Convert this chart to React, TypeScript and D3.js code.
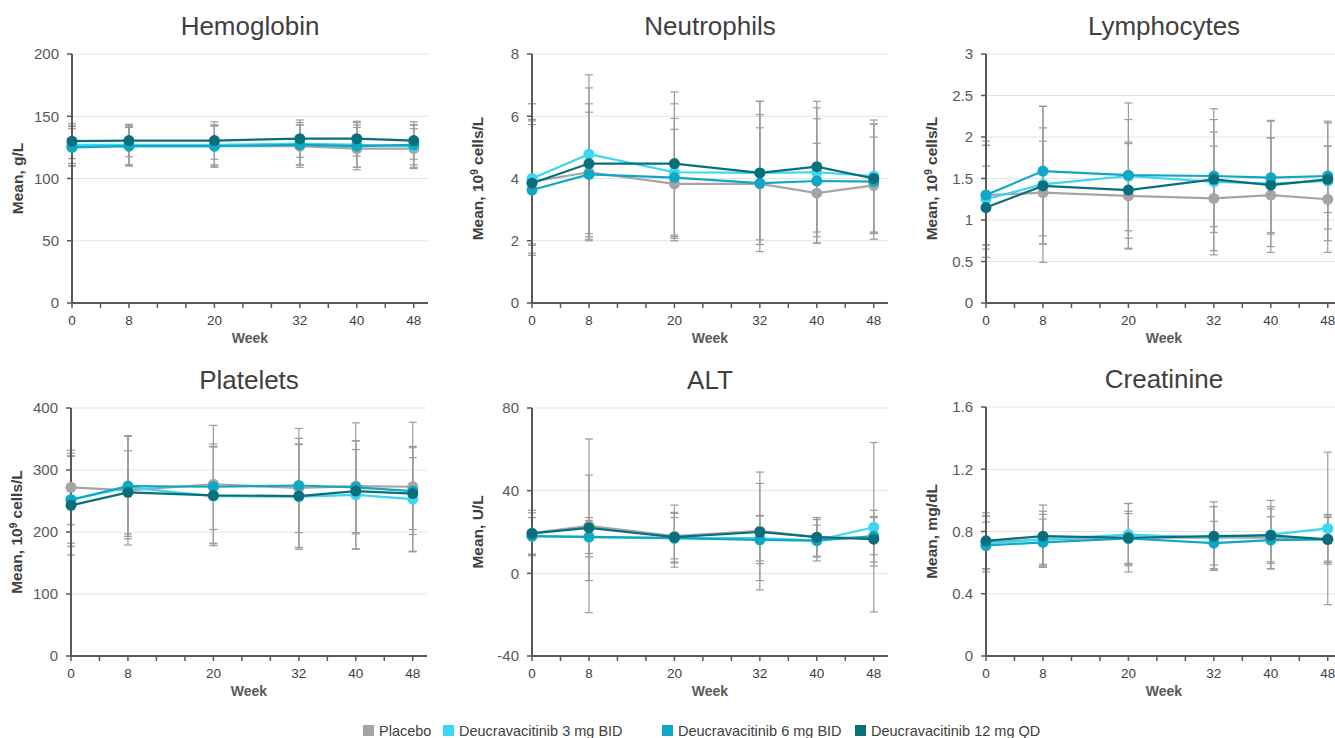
import React from "react";
import * as d3 from "d3";

const weeks = [0, 8, 20, 32, 40, 48];
const weekTicks = [0, 4, 8, 12, 16, 20, 24, 28, 32, 36, 40, 44, 48];
const weekLabels = [0, 8, 20, 32, 40, 48];

const seriesNames = [
  "Placebo",
  "Deucravacitinib 3 mg BID",
  "Deucravacitinib 6 mg BID",
  "Deucravacitinib 12 mg QD",
];
const seriesColors = ["#a7a4a6", "#3ad7f2", "#0fa7c4", "#0a6e7b"];

// Means per series (Placebo, 3 mg, 6 mg, 12 mg) and SD per series
const hgbMeans = [
  [126, 126, 126, 126, 124, 124],
  [127, 127, 127, 128, 127, 126],
  [125, 126, 126, 127, 126, 127],
  [130, 130.5, 130.5, 132, 132, 130.5],
];
const hgbSD = [
  [16, 16, 17, 17, 17, 16],
  [15, 16, 16, 17, 18, 17],
  [15, 15, 16, 16, 17, 16],
  [14, 13, 15, 15, 14, 15],
];
const hgbTicks = [0, 50, 100, 150, 200];

const neuMeans = [
  [3.9, 4.2, 3.83, 3.83, 3.53, 3.78],
  [4.0, 4.78, 4.2, 4.18, 4.2, 4.08],
  [3.63, 4.13, 4.03, 3.85, 3.92, 3.9],
  [3.85, 4.48, 4.48, 4.18, 4.38, 4.0],
];
const neuSD = [
  [2.0, 2.2, 1.75, 1.8, 1.6, 1.55],
  [2.4, 2.55, 2.2, 2.3, 2.07, 1.8],
  [2.1, 2.0, 1.9, 2.2, 2.0, 1.85],
  [2.0, 2.43, 2.3, 2.3, 2.1, 1.75],
];
const neuTicks = [0, 2, 4, 6, 8];

const lymMeans = [
  [1.3, 1.33, 1.29, 1.26, 1.3, 1.25],
  [1.25, 1.43, 1.53, 1.46, 1.44, 1.47],
  [1.3, 1.59, 1.54, 1.53, 1.51, 1.53],
  [1.15, 1.41, 1.36, 1.49, 1.42, 1.49],
];
const lymSD = [
  [0.6, 0.62, 0.63, 0.63, 0.69, 0.64],
  [0.7, 0.94, 0.88, 0.88, 0.76, 0.72],
  [0.6, 0.78, 0.67, 0.68, 0.68, 0.64],
  [0.5, 0.7, 0.58, 0.57, 0.57, 0.4],
];
const lymTicks = [0, 0.5, 1, 1.5, 2, 2.5, 3];

const pltMeans = [
  [272, 267, 277, 271, 274, 273],
  [252, 272, 258, 257, 260, 253],
  [252, 274, 273, 275, 272, 266],
  [243, 264, 259, 258, 266, 262],
];
const pltSD = [
  [60, 88, 95, 96, 102, 104],
  [70, 83, 80, 85, 87, 85],
  [75, 81, 69, 76, 75, 70],
  [80, 67, 78, 83, 67, 58],
];
const pltTicks = [0, 100, 200, 300, 400];

const altMeans = [
  [19.5, 23, 18, 20.5, 17.5, 17],
  [18, 17.5, 17, 17, 16, 22.3],
  [18, 17.6, 17, 16.2, 15.8, 18],
  [19.3, 22, 17.5, 20, 17.5, 16.5],
];
const altSD = [
  [11, 42, 15, 28.5, 9.5, 13.5],
  [9, 9.5, 12, 11, 10, 41],
  [9, 8, 10, 11.5, 7.5, 9],
  [10, 25.5, 12, 23.5, 9.5, 11],
];
const altTicks = [-40, 0, 40, 80];

const creMeans = [
  [0.73, 0.75, 0.76, 0.76, 0.76, 0.75],
  [0.72, 0.75, 0.78, 0.76, 0.78, 0.82],
  [0.71, 0.73, 0.755, 0.725, 0.745, 0.75],
  [0.74, 0.77, 0.76, 0.77, 0.775, 0.75],
];
const creSD = [
  [0.17, 0.16, 0.17, 0.2, 0.2, 0.16],
  [0.18, 0.18, 0.2, 0.2, 0.22, 0.49],
  [0.15, 0.15, 0.16, 0.14, 0.15, 0.14],
  [0.18, 0.2, 0.22, 0.22, 0.17, 0.15],
];
const creTicks = [0, 0.4, 0.8, 1.2, 1.6];

type Panel = {
  title: string;
  yLabel: string;
  sup?: string;
  yLabelRest?: string;
  means: number[][];
  sd: number[][];
  ticks: number[];
  x0: number;
  top: number;
  bottom: number;
};

const panels: Panel[] = [
  { title: "Hemoglobin", yLabel: "Mean, g/L", means: hgbMeans, sd: hgbSD, ticks: hgbTicks, x0: 72, top: 54, bottom: 303 },
  { title: "Neutrophils", yLabel: "Mean, 10", sup: "9", yLabelRest: " cells/L", means: neuMeans, sd: neuSD, ticks: neuTicks, x0: 532, top: 54, bottom: 303 },
  { title: "Lymphocytes", yLabel: "Mean, 10", sup: "9", yLabelRest: " cells/L", means: lymMeans, sd: lymSD, ticks: lymTicks, x0: 986, top: 54, bottom: 303 },
  { title: "Platelets", yLabel: "Mean, 10", sup: "9", yLabelRest: " cells/L", means: pltMeans, sd: pltSD, ticks: pltTicks, x0: 71, top: 408, bottom: 656 },
  { title: "ALT", yLabel: "Mean, U/L", means: altMeans, sd: altSD, ticks: altTicks, x0: 532, top: 408, bottom: 656 },
  { title: "Creatinine", yLabel: "Mean, mg/dL", means: creMeans, sd: creSD, ticks: creTicks, x0: 986, top: 407, bottom: 656 },
];

const FONT = "'Liberation Sans', Arial, Helvetica, sans-serif";
const AXIS = "#595959";
const TEXT = "#404040";

function ChartPanel({ p }: { p: Panel }) {
  const x = d3.scaleLinear().domain([0, 50]).range([p.x0, p.x0 + 356]);
  const yMin = p.ticks[0];
  const yMax = p.ticks[p.ticks.length - 1];
  const y = d3.scaleLinear().domain([yMin, yMax]).range([p.bottom, p.top]);
  const line = d3
    .line<number>()
    .x((_, i) => x(weeks[i]))
    .y((v) => y(v));
  const xEnd = x(50);
  const cx = (p.x0 + xEnd) / 2;
  const fmt = (v: number) => String(v);
  return (
    <g>
      <text x={cx} y={p.top - 19} textAnchor="middle" fontSize={26} fill={TEXT} fontFamily={FONT}>
        {p.title}
      </text>
      {/* gridlines */}
      {p.ticks.slice(1).map((t) => (
        <line key={"g" + t} x1={p.x0} x2={xEnd} y1={y(t)} y2={y(t)} stroke="#e4e4e4" strokeWidth={1} />
      ))}
      {/* error bars */}
      {p.means.map((ser, si) =>
        ser.map((m, i) => {
          const sd = p.sd[si][i];
          const xx = x(weeks[i]);
          return (
            <g key={"e" + si + "-" + i} stroke="#9b9b9b" strokeWidth={1.2}>
              <line x1={xx} x2={xx} y1={y(m + sd)} y2={y(m - sd)} />
              <line x1={xx - 4} x2={xx + 4} y1={y(m + sd)} y2={y(m + sd)} />
              <line x1={xx - 4} x2={xx + 4} y1={y(m - sd)} y2={y(m - sd)} />
            </g>
          );
        })
      )}
      {/* axes */}
      <line x1={p.x0} x2={p.x0} y1={p.top} y2={p.bottom} stroke={AXIS} strokeWidth={2} />
      <line x1={p.x0 - 1} x2={xEnd} y1={p.bottom} y2={p.bottom} stroke={AXIS} strokeWidth={2} />
      {p.ticks.map((t) => (
        <g key={"yt" + t}>
          <line x1={p.x0 - 5} x2={p.x0} y1={y(t)} y2={y(t)} stroke={AXIS} strokeWidth={1.5} />
          <text x={p.x0 - 13} y={y(t)} dy="0.35em" textAnchor="end" fontSize={15} fill={AXIS} fontFamily={FONT}>
            {fmt(t)}
          </text>
        </g>
      ))}
      {weekTicks.map((w) => (
        <line key={"xt" + w} x1={x(w)} x2={x(w)} y1={p.bottom} y2={p.bottom + 5} stroke={AXIS} strokeWidth={1.5} />
      ))}
      {weekLabels.map((w) => (
        <text key={"xl" + w} x={x(w)} y={p.bottom + 22} textAnchor="middle" fontSize={13.5} fill={TEXT} fontFamily={FONT}>
          {w}
        </text>
      ))}
      <text x={cx} y={p.bottom + 40} textAnchor="middle" fontSize={14} fontWeight="bold" fill={AXIS} fontFamily={FONT}>
        Week
      </text>
      <text
        transform={`translate(${p.x0 - 49},${(p.top + p.bottom) / 2}) rotate(-90)`}
        textAnchor="middle"
        fontSize={15.5}
        fontWeight="bold"
        fill={TEXT}
        fontFamily={FONT}
      >
        {p.yLabel}
        {p.sup ? (
          <>
            <tspan dy={-5} fontSize={10}>
              {p.sup}
            </tspan>
            <tspan dy={5}>{p.yLabelRest}</tspan>
          </>
        ) : null}
      </text>
      {/* series */}
      {p.means.map((ser, si) => (
        <g key={"s" + si}>
          <path d={line(ser) || ""} fill="none" stroke={seriesColors[si]} strokeWidth={2.2} />
          {ser.map((m, i) => (
            <circle key={i} cx={x(weeks[i])} cy={y(m)} r={5.5} fill={seriesColors[si]} />
          ))}
        </g>
      ))}
    </g>
  );
}

const legendX = [363, 443, 662, 855];

export default function App() {
  return (
    <svg
      width={1335}
      height={738}
      style={{ position: "absolute", left: 0, top: 0, background: "#fff" }}
    >
      <rect x={0} y={0} width={1335} height={738} fill="#fff" />
      {panels.map((p) => (
        <ChartPanel key={p.title} p={p} />
      ))}
      {seriesNames.map((n, i) => (
        <g key={n}>
          <rect x={legendX[i]} y={725} width={11} height={11} fill={seriesColors[i]} />
          <text x={legendX[i] + 16} y={730.5} dy="0.35em" fontSize={14.5} fill={TEXT} fontFamily={FONT}>
            {n}
          </text>
        </g>
      ))}
    </svg>
  );
}
